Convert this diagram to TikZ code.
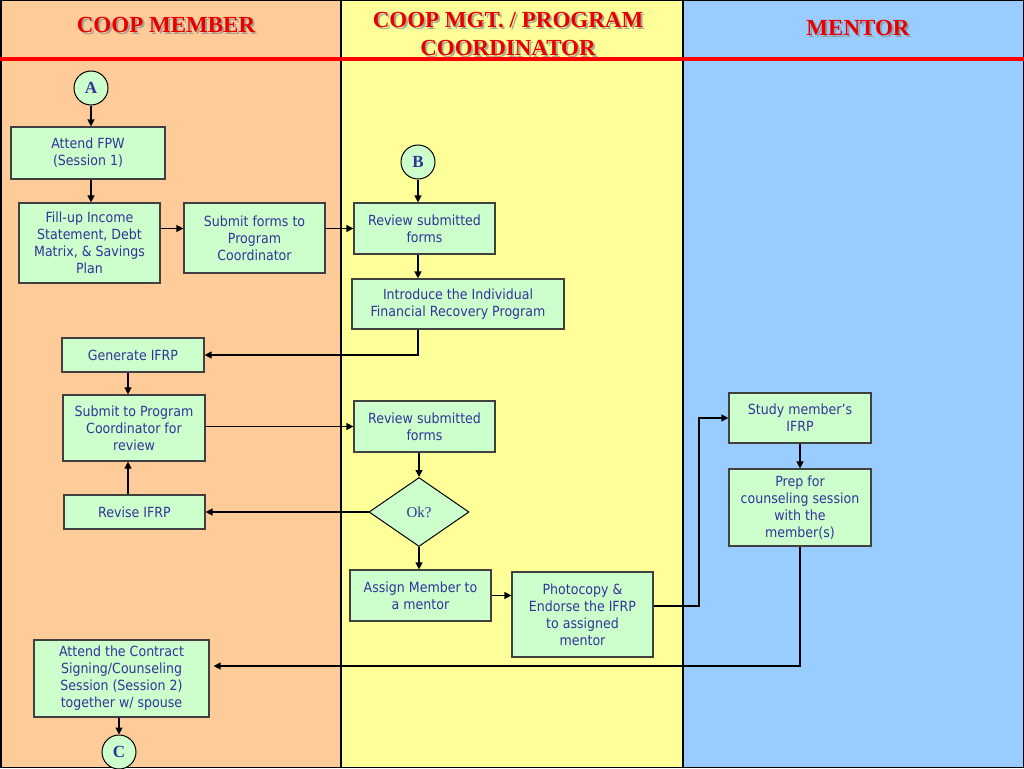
\documentclass[tikz,border=0pt]{standalone}
\usepackage{fontspec}
\setmainfont{DejaVu Sans}[FakeStretch=0.9]
\newfontfamily\tnr{Liberation Serif}
\usetikzlibrary{arrows.meta,shapes.geometric}
\definecolor{laneO}{HTML}{FFCC99}
\definecolor{laneY}{HTML}{FFFF99}
\definecolor{laneB}{HTML}{99CCFF}
\definecolor{boxG}{HTML}{CCFFCC}
\definecolor{boxE}{HTML}{404040}
\definecolor{txtB}{HTML}{333399}
\definecolor{titleR}{HTML}{E80000}
\begin{document}
\begin{tikzpicture}[x=1pt,y=-1pt,
  box/.style={draw=boxE, line width=1.2pt, fill=boxG, text=txtB, align=center, inner sep=2pt,
    font=\fontsize{14}{17}\selectfont},
  circ/.style={circle, draw=black, line width=1pt, fill=boxG, minimum size=34pt, inner sep=0pt,
    text=txtB, font=\tnr\bfseries\fontsize{17}{17}\selectfont},
  dia/.style={diamond, draw=black, line width=1pt, fill=boxG, minimum width=100pt, minimum height=69pt,
    inner sep=0pt, text=txtB, font=\tnr\fontsize{15}{15}\selectfont},
  conn/.style={draw=black, line width=1.3pt, -{Triangle[length=7pt,width=7pt]}},
  ttl/.style={text=titleR, align=center, font=\tnr\bfseries\fontsize{23}{28}\selectfont},
  shd/.style={text=black!45, opacity=0.7, align=center, font=\tnr\bfseries\fontsize{23}{28}\selectfont},
  lane/.style={draw=black, line width=1.5pt}]
\useasboundingbox (0,0) rectangle (1024,768);
% lanes
\fill[laneO] (0,0) rectangle (341,768);
\fill[laneY] (341,0) rectangle (683,768);
\fill[laneB] (683,0) rectangle (1024,768);
\draw[lane] (0.75,0.75) rectangle (1023.25,767.25);
\draw[lane] (341,0) -- (341,768);
\draw[lane] (683,0) -- (683,768);
\draw[draw=red, line width=4pt] (0,59) -- (1024,59);
% titles
\node[shd] (t1s) at (168,27) {COOP MEMBER};
\node[ttl] (t1) at (166,25) {COOP MEMBER};
\node[shd] (t2s) at (510,36) {COOP MGT. / PROGRAM\\COORDINATOR};
\node[ttl] (t2) at (508,34) {COOP MGT. / PROGRAM\\COORDINATOR};
\node[shd] (t3s) at (860,30) {MENTOR};
\node[ttl] (t3) at (858,28) {MENTOR};
% nodes
\node[circ] (A) at (91,88) {A};
\node[box, minimum width=154pt, minimum height=52pt] (fpw) at (88,153) {Attend FPW\\(Session 1)};
\node[box, minimum width=141pt, minimum height=80pt] (fill) at (89.5,243) {Fill-up Income\\Statement, Debt\\Matrix, \& Savings\\Plan};
\node[box, minimum width=141pt, minimum height=70pt] (subf) at (254.5,238) {Submit forms to\\Program\\Coordinator};
\node[circ] (B) at (418,162) {B};
\node[box, minimum width=141pt, minimum height=51pt] (rev1) at (424.5,228.5) {Review submitted\\forms};
\node[box, minimum width=212pt, minimum height=50pt] (intro) at (458,304) {Introduce the Individual\\Financial Recovery Program};
\node[box, minimum width=142pt, minimum height=34pt] (gen) at (133,355) {Generate IFRP};
\node[box, minimum width=142pt, minimum height=66pt] (sub2) at (134,428) {Submit to Program\\Coordinator for\\review};
\node[box, minimum width=141pt, minimum height=34pt] (revise) at (134.5,512) {Revise IFRP};
\node[box, minimum width=141pt, minimum height=51pt] (rev2) at (424.5,426.5) {Review submitted\\forms};
\node[dia] (ok) at (419,512) {Ok?};
\node[box, minimum width=141pt, minimum height=51pt] (assign) at (420.5,595.5) {Assign Member to\\a mentor};
\node[box, minimum width=141pt, minimum height=85pt] (photo) at (582.5,614.5) {Photocopy \&\\Endorse the IFRP\\to assigned\\mentor};
\node[box, minimum width=142pt, minimum height=50pt] (study) at (800,418) {Study member’s\\IFRP};
\node[box, minimum width=142pt, minimum height=77pt] (prep) at (800,507.5) {Prep for\\counseling session\\with the\\member(s)};
\node[box, minimum width=175pt, minimum height=77pt] (contract) at (121.5,678.5) {Attend the Contract\\Signing/Counseling\\Session (Session 2)\\together w/ spouse};
\node[circ] (C) at (119,752) {C};
\coordinate (colL) at (128,0);
\coordinate (jog) at (699,418);
% connectors
\draw[conn] (A.south) -- (A.south |- fpw.north);
\draw[conn] (fpw.south -| A) -- (fill.north -| A);
\draw[conn] (fill.east |- rev1.west) -- (subf.west |- rev1.west);
\draw[conn] (subf.east |- rev1.west) -- (rev1.west);
\draw[conn] (B.south) -- (B.south |- rev1.north);
\draw[conn] (rev1.south -| B) -- (intro.north -| B);
\draw[conn] (intro.south -| B) |- (gen.east);
\draw[conn] (gen.south -| colL) -- (sub2.north -| colL);
\draw[conn] (sub2.east |- rev2.west) -- (rev2.west);
\draw[conn] (rev2.south -| ok) -- (ok.north);
\draw[conn] (ok.west) -- (revise.east);
\draw[conn] (revise.north -| colL) -- (sub2.south -| colL);
\draw[conn] (ok.south) -- (ok.south |- assign.north);
\draw[conn] (assign.east) -- (assign.east -| photo.west);
\draw[conn] ([yshift=8.5pt]photo.east) -| (jog) -- (study.west);
\draw[conn] (study.south) -- (prep.north);
\draw[conn] (prep.south) |- ([xshift=4pt,yshift=12.5pt]contract.east);
\draw[conn] (contract.south -| C) -- (C.north);
\end{tikzpicture}
\end{document}
